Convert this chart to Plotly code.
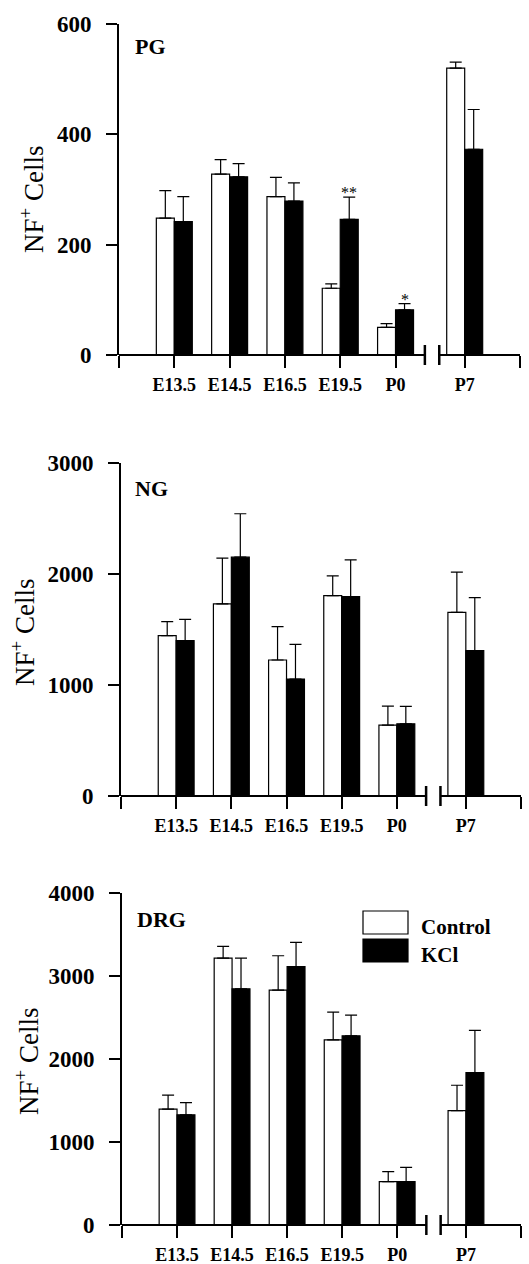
import plotly.graph_objects as go

# ---------------- data ----------------
categories = ["E13.5", "E14.5", "E16.5", "E19.5", "P0", "P7"]

pg_control = [248, 328, 287, 121, 50, 520]
pg_control_err = [50, 26, 35, 8, 7, 11]
pg_kcl = [242, 323, 279, 246, 82, 373]
pg_kcl_err = [45, 24, 33, 40, 11, 72]
pg_kcl_sig = ["", "", "", "**", "*", ""]

ng_control = [1444, 1730, 1225, 1806, 638, 1655]
ng_control_err = [127, 413, 301, 177, 172, 361]
ng_kcl = [1399, 2152, 1053, 1797, 650, 1309]
ng_kcl_err = [193, 391, 313, 331, 157, 479]
ng_kcl_sig = ["", "", "", "", "", ""]

drg_control = [1395, 3216, 2830, 2231, 523, 1379]
drg_control_err = [169, 141, 414, 334, 120, 305]
drg_kcl = [1327, 2846, 3112, 2279, 523, 1837]
drg_kcl_err = [148, 370, 293, 250, 172, 507]
drg_kcl_sig = ["", "", "", "", "", ""]

panel_names = ["PG", "NG", "DRG"]
y_max = [600, 3000, 4000]
y_dtick = [200, 1000, 1000]

# ---------------- layout helpers ----------------
W, H = 529, 1264
FONT = "Liberation Serif"
# positions on the numeric x axis (gap before P7 for the axis break)
x_pos = [1, 2, 3, 4, 5, 6.25]
x_end = 7.25
break_a, break_b = 5.53, 5.79

# pixel boxes of each panel: (left, right, top, bottom)
boxes = [(119, 520, 24, 355), (121, 521, 463, 796), (122, 521, 893, 1225)]
title_pos = [(32, 200), (23, 633), (27, 1062)]
label_pos = [(133, 47), (133, 488), (135, 919)]

fig = go.Figure()

panels = [
    (pg_control, pg_control_err, pg_kcl, pg_kcl_err, pg_kcl_sig),
    (ng_control, ng_control_err, ng_kcl, ng_kcl_err, ng_kcl_sig),
    (drg_control, drg_control_err, drg_kcl, drg_kcl_err, drg_kcl_sig),
]

shapes = []
annotations = []

for i, (c, ce, k, ke, sig) in enumerate(panels):
    n = "" if i == 0 else str(i + 1)
    xa, ya = "x" + n, "y" + n
    left, right, top, bottom = boxes[i]
    ph = bottom - top

    fig.add_trace(go.Bar(
        x=x_pos, y=c, name="Control", xaxis=xa, yaxis=ya,
        marker=dict(color="white", line=dict(color="black", width=1.2)),
        error_y=dict(type="data", array=ce, arrayminus=[0] * len(ce), symmetric=False,
                     color="black", thickness=1.2, width=6),
        showlegend=False,
    ))
    fig.add_trace(go.Bar(
        x=x_pos, y=k, name="KCl", xaxis=xa, yaxis=ya,
        marker=dict(color="black", line=dict(color="black", width=1.2)),
        error_y=dict(type="data", array=ke, arrayminus=[0] * len(ke), symmetric=False,
                     color="black", thickness=1.2, width=6),
        showlegend=False,
    ))

    fig.layout["xaxis" + n] = dict(
        domain=[left / W, right / W], range=[0, x_end], anchor=ya,
        automargin=False,
        showline=False, showgrid=False, zeroline=False,
        tickmode="array", tickvals=x_pos, ticktext=categories,
        ticks="outside", ticklen=12, tickwidth=2, tickcolor="black",
        tickfont=dict(family=FONT, size=18, color="black", weight="bold"),
        ticklabelstandoff=1,
        minor=dict(tickmode="array", tickvals=[0, x_end], ticks="outside",
                   ticklen=12, tickwidth=2, tickcolor="black", showgrid=False),
    )
    fig.layout["yaxis" + n] = dict(
        domain=[1 - bottom / H, 1 - top / H], range=[0, y_max[i]], anchor=xa,
        automargin=False,
        showline=True, linewidth=2, linecolor="black",
        showgrid=False, zeroline=False, dtick=y_dtick[i],
        ticks="outside", ticklen=11, tickwidth=2, tickcolor="black",
        tickfont=dict(family=FONT, size=23, color="black", weight="bold"),
        ticklabelstandoff=10,
    )

    # x axis line with a break before P7
    xd = xa + " domain"
    yd = ya + " domain"
    for x0, x1 in [(0, break_a), (break_b, x_end)]:
        shapes.append(dict(type="line", xref=xd, yref=yd, x0=x0 / x_end, x1=x1 / x_end,
                           y0=0, y1=0, line=dict(color="black", width=2)))
    for xb in (break_a, break_b):
        shapes.append(dict(type="line", xref=xd, yref=yd, x0=xb / x_end, x1=xb / x_end,
                           y0=-10 / ph, y1=10 / ph, line=dict(color="black", width=2.5)))

    # y axis title
    tx, ty = title_pos[i]
    annotations.append(dict(
        text="NF<sup>+</sup> Cells", xref="paper", yref="paper",
        x=tx / W, y=1 - ty / H, xanchor="center", yanchor="middle",
        textangle=-90, showarrow=False,
        font=dict(family=FONT, size=27, color="black"),
    ))
    # panel label
    lx, ly = label_pos[i]
    annotations.append(dict(
        text=panel_names[i], xref="paper", yref="paper",
        x=lx / W, y=1 - ly / H, xanchor="left", yanchor="middle", showarrow=False,
        font=dict(family=FONT, size=22, color="black", weight="bold"),
    ))
    # significance marks above KCl bars
    for xp, v, e, s in zip(x_pos, k, ke, sig):
        if s:
            annotations.append(dict(
                text=s, xref=xa, yref=ya, x=xp + 0.1625, y=v + e,
                xanchor="center", yanchor="bottom", yshift=-6, showarrow=False,
                font=dict(family=FONT, size=16, color="black"),
            ))

# legend (bottom panel)
legend_items = [("Control", "white", 911, 934, 927), ("KCl", "black", 939, 962, 955)]
for name, col, y0, y1, yt in legend_items:
    shapes.append(dict(type="rect", xref="paper", yref="paper",
                       x0=363 / W, x1=408 / W, y0=1 - y1 / H, y1=1 - y0 / H,
                       fillcolor=col, line=dict(color="black", width=1.2)))
    annotations.append(dict(
        text=name, xref="paper", yref="paper", x=419 / W, y=1 - yt / H,
        xanchor="left", yanchor="middle", showarrow=False,
        font=dict(family=FONT, size=21, color="black", weight="bold"),
    ))

fig.update_layout(
    width=W, height=H, margin=dict(l=0, r=0, t=0, b=0, autoexpand=False),
    paper_bgcolor="white", plot_bgcolor="white",
    barmode="group", bargap=0.35, bargroupgap=0,
    shapes=shapes, annotations=annotations, showlegend=False,
)

fig.write_html("out.html")
